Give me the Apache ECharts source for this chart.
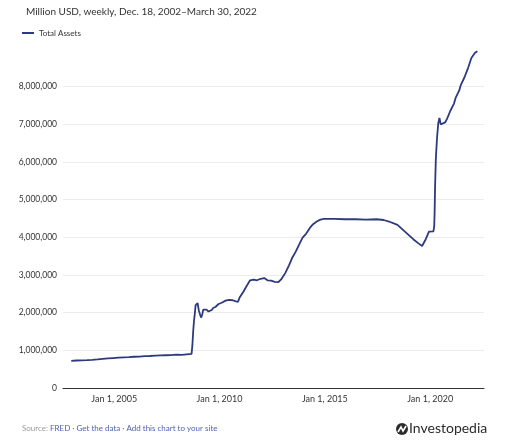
<!DOCTYPE html>
<html><head><meta charset="utf-8">
<script src="https://cdn.jsdelivr.net/npm/echarts@6/dist/echarts.min.js"></script>
<style>html,body{margin:0;padding:0;background:#fff}#c{width:514px;height:446px}</style>
</head><body><div id="c"></div>
<script>
const title = 'Million USD, weekly, Dec. 18, 2002\u2013March 30, 2022';
const seriesName = 'Total Assets';
const xTickYears = [2005, 2010, 2015, 2020];
const yTicks = [0,1000000,2000000,3000000,4000000,5000000,6000000,7000000,8000000];
const dates = [
'2002-12-18','2003-03-19','2003-06-18','2003-09-17','2003-12-17','2004-03-17','2004-06-16','2004-09-15','2004-12-15',
'2005-03-16','2005-06-15','2005-09-14','2005-12-14','2006-03-15','2006-06-14','2006-09-13','2006-12-13',
'2007-03-14','2007-06-13','2007-09-12','2007-12-12','2008-03-12','2008-06-11','2008-09-03','2008-09-17','2008-10-01',
'2008-10-15','2008-10-29','2008-11-12','2008-11-26','2008-12-17','2009-01-07','2009-01-28','2009-02-18','2009-03-11',
'2009-03-25','2009-04-22','2009-05-20','2009-06-24','2009-07-15','2009-08-19','2009-09-16','2009-10-21','2009-11-18',
'2009-12-16','2010-02-17','2010-04-14','2010-06-16','2010-08-18','2010-10-13','2010-11-17','2010-12-15','2011-02-16',
'2011-04-13','2011-06-15','2011-08-17','2011-10-12','2011-12-14','2012-02-15','2012-04-11','2012-06-13','2012-08-15',
'2012-10-17','2012-11-14','2012-12-12','2013-02-13','2013-04-17','2013-06-12','2013-08-14','2013-10-16','2013-12-11',
'2014-02-12','2014-04-16','2014-06-11','2014-08-13','2014-10-15','2014-12-17','2015-06-17','2015-12-16','2016-06-15',
'2016-12-14','2017-06-14','2017-10-18','2018-01-17','2018-06-13','2018-12-12','2019-03-13','2019-06-12','2019-08-14',
'2019-09-11','2019-10-16','2019-12-11','2020-02-26','2020-03-11','2020-03-18','2020-03-25','2020-04-08','2020-04-29',
'2020-05-20','2020-06-10','2020-07-01','2020-07-29','2020-09-16','2020-10-21','2020-12-16','2021-02-17','2021-03-17',
'2021-05-19','2021-06-16','2021-08-18','2021-10-20','2021-12-15','2022-02-16','2022-03-30'
];
const totalAssets = [
720000,730000,735000,740000,748000,760000,775000,785000,795000,
805000,815000,820000,830000,835000,845000,850000,860000,
865000,870000,875000,885000,880000,895000,905000,1130000,1500000,
1780000,1970000,2200000,2150000,2250000,2060000,1950000,1870000,1980000,
2080000,2130000,2080000,2030000,1980000,2070000,2130000,2150000,2180000,
2230000,2270000,2320000,2340000,2330000,2300000,2290000,2400000,2550000,
2700000,2860000,2880000,2860000,2900000,2920000,2860000,2850000,2820000,
2810000,2830000,2900000,3050000,3250000,3450000,3620000,3820000,3990000,
4100000,4250000,4350000,4420000,4470000,4490000,4490000,4480000,4480000,
4470000,4480000,4460000,4420000,4330000,4080000,3950000,3840000,3770000,
3760000,3950000,4150000,4160000,4300000,4670000,5300000,6080000,6650000,
7030000,7170000,7000000,6950000,7050000,7150000,7360000,7550000,7700000,
7900000,8050000,8250000,8500000,8760000,8900000,8940000
];

const chart = echarts.init(document.getElementById('c'), null, {renderer:'canvas'});
const FONT = 'Lato';
chart.setOption({
  animation:false,
  textStyle:{fontFamily:FONT},
  title:{text:title,left:21,top:2,textStyle:{fontSize:10,fontWeight:'normal',color:'#333',fontFamily:FONT}},
  legend:{left:17,top:24,icon:'rect',itemWidth:12,itemHeight:2,itemGap:4,
    textStyle:{fontSize:8,color:'#333',fontFamily:FONT},data:[seriesName]},
  grid:{left:63,right:30,top:49,bottom:58,containLabel:false},
  xAxis:{type:'value',min:Date.UTC(2002,6,28),max:Date.UTC(2022,6,22),
    axisLine:{show:true,onZero:false,lineStyle:{color:'#333',width:1}},
    axisTick:{show:false},splitLine:{show:false},
    axisLabel:{customValues:xTickYears.map(y=>Date.UTC(y,0,1)),
      formatter:v=>'Jan 1, '+new Date(v).getUTCFullYear(),
      fontSize:9,color:'#333',margin:7,fontFamily:FONT,hideOverlap:false}},
  yAxis:{type:'value',min:0,max:9000000,interval:1000000,
    axisLine:{show:false},axisTick:{show:false},
    splitLine:{show:true,showMinLine:false,showMaxLine:false,lineStyle:{color:'#ececec',width:1}},
    axisLabel:{customValues:yTicks,formatter:v=>v.toLocaleString('en-US'),fontSize:8.5,color:'#333',margin:6,fontFamily:FONT}},
  series:[{name:seriesName,type:'line',showSymbol:false,symbol:'none',
    lineStyle:{color:'#2e3a7e',width:1.8},itemStyle:{color:'#2e3a7e'},
    data:dates.map((d,i)=>[Date.parse(d),totalAssets[i]])}],
  graphic:[
    {type:'text',left:22,top:424,style:{text:'{g|Source: }{b|FRED \u00b7 Get the data \u00b7 Add this chart to your site}',
      rich:{g:{fontSize:8,fill:'#9a9a9a',fontFamily:FONT},b:{fontSize:8,fill:'#4e63b0',fontFamily:FONT}}}},
    {type:'circle',shape:{cx:402,cy:429,r:6},style:{fill:'#2b2b2b'}},
    {type:'polyline',shape:{points:[[398,432],[401,427],[403,431],[406,426]]},style:{stroke:'#fff',lineWidth:1.6,fill:null}},
    {type:'text',left:409,top:421,style:{text:'Investopedia',fontSize:14,fill:'#2b2b2b',fontFamily:FONT}}
  ]
});
</script></body></html>
